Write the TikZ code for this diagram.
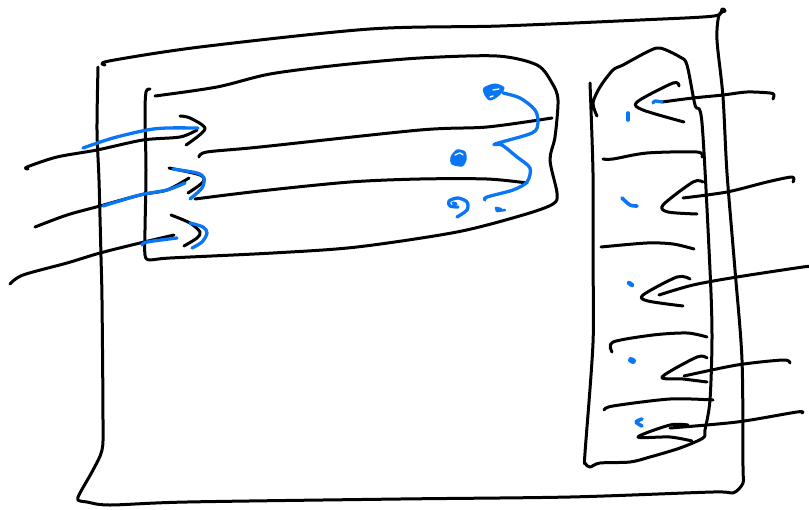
\documentclass[tikz,border=0pt]{standalone}
\usepackage{xcolor}
\definecolor{penblue}{HTML}{0A76F6}
\begin{document}
\begin{tikzpicture}[
    x=1pt, y=-1pt,
    ink/.style={draw=black, line width=3pt, line cap=round, line join=round},
    pen/.style={draw=penblue, line width=3.3pt, line cap=round, line join=round},
    blob/.style={fill=penblue, draw=penblue, line width=1pt},
    hole/.style={draw=white, line width=1.3pt, line cap=round}
]
\useasboundingbox (0,0) rectangle (809,509);
% outer frame
\draw[ink] plot[smooth] coordinates {(105,65) (109,61) (200,47) (370,29) (500,26) (640,20) (714,16) (722,9) (725,11) (719,15) (717,40) (723,97) (727,173) (735,270) (742,360) (743,467) (743,483) (733,493) (713,492) (570,497) (400,499) (187,502) (110,505) (87,502) (78,500) (80,493) (93,470) (102,450) (103,420) (102,300) (101,257) (99,180) (97,130) (98,67)};
% inner panel
\draw[ink] plot[smooth] coordinates {(150,89) (146,92) (145,115) (146,170) (145,230) (145,255) (150,260) (170,258) (273,253) (357,247) (457,232) (523,215) (553,204) (557,193) (550,160) (555,137) (558,100) (552,83) (537,65) (497,56) (420,58) (340,65) (270,74) (217,87) (155,96)};
\draw[ink] plot[smooth] coordinates {(199,157) (207,152) (260,147) (420,130) (487,127) (552,118)};
\draw[ink] plot[smooth] coordinates {(195,199) (260,191) (350,182) (420,179) (487,179) (527,183)};
% left arrows
\draw[ink] plot[smooth] coordinates {(28,169) (27,167) (57,157) (97,150) (143,140) (180,137) (197,130)};
\draw[ink] plot[smooth] coordinates {(180,116) (190,118) (205,129) (186,145)};
\draw[ink] plot[smooth] coordinates {(35,227) (67,215) (100,206) (140,195) (167,190) (189,178)};
\draw[ink] plot[smooth] coordinates {(169,168) (200,175) (203,182) (188,193)};
\draw[ink] plot[smooth] coordinates {(10,284) (23,275) (67,263) (100,253) (140,243) (174,235)};
\draw[ink] plot[smooth] coordinates {(171,215) (190,223) (200,232) (197,238) (184,246)};
\draw[pen] plot[smooth] coordinates {(83,148) (113,138) (147,130) (167,128) (198,128)};
\draw[pen] plot[smooth] coordinates {(103,206) (140,195) (167,190) (185,183)};
\draw[pen] plot[smooth] coordinates {(173,169) (197,173) (204,178) (202,188) (190,199)};
\draw[pen] plot[smooth] coordinates {(142,245) (147,242) (177,238)};
\draw[pen] plot[smooth] coordinates {(190,223) (203,227) (207,233) (202,242) (192,248)};
% blue marks in the panel
\draw[pen] plot[smooth] coordinates {(503,93) (520,98) (535,110) (538,123) (532,133) (495,144) (502,145) (517,157) (530,168) (527,182) (513,190) (487,197) (485,200)};
\fill[blob] plot[smooth cycle] coordinates {(484,88) (495,84) (504,88) (498,96) (490,100) (485,95)};
\draw[hole] (493,90) -- (499,89);
\draw[hole] (490,97) -- (493,96);
\fill[blob] plot[smooth cycle] coordinates {(451,157) (457,150) (465,152) (466,160) (462,166) (452,164)};
\draw[hole] plot[smooth] coordinates {(455,155) (460,153) (463,155)};
\draw[pen] plot[smooth] coordinates {(458,207) (450,206) (449,201) (458,198) (467,202) (467,210) (457,217)};
\draw[pen] (453,203) -- (456,204);
\draw[hole] (459,202) -- (462,203);
\draw[pen, line width=2.6pt] (496,208) -- (497,211) -- (505,210);
\draw[pen, line width=2.6pt] (496,208) -- (501,209);
% side panel
\draw[ink] plot[smooth] coordinates {(590,83) (593,173) (593,260) (593,343) (585,453) (585,463) (590,467) (600,463) (630,462) (650,457) (680,448) (703,438) (705,430) (710,400) (712,337) (710,270) (702,123) (695,105) (687,65) (680,57) (660,48) (647,52) (623,65) (613,70) (600,87) (593,103) (597,116)};
\draw[ink] plot[smooth] coordinates {(603,159) (613,159) (647,153) (697,152) (702,157)};
\draw[ink] plot[smooth] coordinates {(601,247) (647,243) (673,244) (694,249)};
\draw[ink] plot[smooth] coordinates {(612,352) (613,342) (653,335) (687,333) (707,337)};
\draw[ink] plot[smooth] coordinates {(604,410) (613,406) (670,399) (713,400)};
% right arrows
\draw[ink] plot[smooth] coordinates {(662,102) (693,98) (723,95) (747,92) (770,93) (774,95) (773,99)};
\draw[ink] plot[smooth] coordinates {(679,86) (673,83) (637,102) (643,110) (684,122)};
\draw[ink] plot[smooth] coordinates {(683,198) (727,192) (767,182) (792,177) (793,182)};
\draw[ink] plot[smooth] coordinates {(703,182) (693,182) (663,205) (668,212) (697,214)};
\draw[ink] plot[smooth] coordinates {(659,295) (693,285) (737,277) (803,267) (809,267)};
\draw[ink] plot[smooth] coordinates {(690,279) (677,277) (643,295) (648,301) (683,306)};
\draw[ink] plot[smooth] coordinates {(684,376) (737,365) (783,360) (790,363)};
\draw[ink] plot[smooth] coordinates {(707,358) (697,357) (662,377) (683,379) (707,382)};
\draw[ink] plot[smooth] coordinates {(670,428) (737,422) (797,412) (802,413)};
\draw[ink] plot[smooth] coordinates {(688,425) (670,425) (638,437) (670,437) (692,441)};
% blue dots
\draw[pen] plot[smooth] coordinates {(653,103) (655,101) (662,102)};
\draw[pen, line width=3.6pt] (628,113) -- (628,120);
\draw[pen, line width=3.6pt] plot[smooth] coordinates {(622,198) (630,205) (637,206)};
\draw[pen, line width=4.5pt] (629,283) -- (632,285);
\draw[pen, line width=6pt] (631,360) -- (633,361);
\draw[pen, line width=3.6pt] plot[smooth] coordinates {(642,419) (636,422) (642,426)};
\end{tikzpicture}
\end{document}
